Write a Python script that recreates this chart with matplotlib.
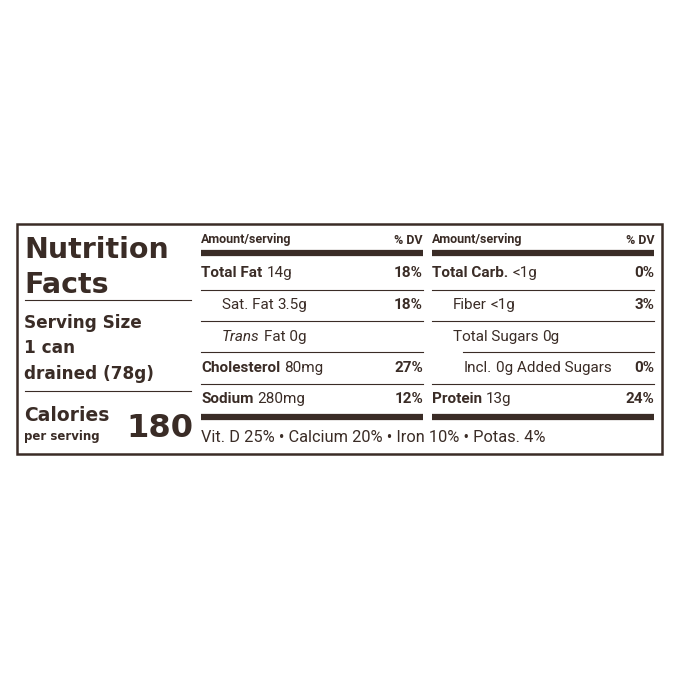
import matplotlib.pyplot as plt
from matplotlib import font_manager
from matplotlib.patches import Rectangle

# label data
left_labels = ["Total Fat", "Sat. Fat", "Trans", "Cholesterol", "Sodium"]
left_amounts = ["14g", "3.5g", "Fat 0g", "80mg", "280mg"]
left_dv = ["18%", "18%", "", "27%", "12%"]
left_bold = [True, False, False, True, True]
left_indent = [0, 1, 1, 0, 0]

right_labels = ["Total Carb.", "Fiber", "Total Sugars", "Incl.", "Protein"]
right_amounts = ["<1g", "<1g", "0g", "0g Added Sugars", "13g"]
right_dv = ["0%", "3%", "", "0%", "24%"]
right_bold = [True, False, False, False, True]
right_indent = [0, 1, 1, 2, 0]

vitamins = "Vit. D 25% • Calcium 20% • Iron 10% • Potas. 4%"

ink = "#3a2c26"
names = {f.name for f in font_manager.fontManager.ttflist}
if "Liberation Sans Narrow" in names:
    narrow, fs = "Liberation Sans Narrow", 12.5
else:
    narrow, fs = "Roboto", 11
heavy = "DejaVu Sans"

fig = plt.figure(figsize=(6.79, 6.79), dpi=100)
ax = fig.add_axes([0, 0, 1, 1])
ax.set_xlim(0, 679)
ax.set_ylim(679, 0)
ax.axis("off")

ax.add_patch(Rectangle((17, 224), 645, 230, fill=False, ec=ink, lw=1.8))

# left block
ax.text(24, 258, "Nutrition", fontsize=20.5, weight="bold", family=heavy, color=ink)
ax.text(24, 293, "Facts", fontsize=20.5, weight="bold", family=heavy, color=ink)
ax.plot([25, 191], [300, 300], color=ink, lw=0.8)
for y, t in zip([328, 353, 379], ["Serving Size", "1 can", "drained (78g)"]):
    ax.text(24, y, t, fontsize=12.2, weight="bold", family=heavy, color=ink)
ax.plot([25, 191], [391, 391], color=ink, lw=0.8)
ax.text(24, 421, "Calories", fontsize=13.5, weight="bold", family=heavy, color=ink)
ax.text(24, 440, "per serving", fontsize=8.5, weight="bold", family=heavy, color=ink)
ax.text(193, 437, "180", fontsize=23, weight="bold", family=heavy, color=ink, ha="right")

row_y = [273, 305, 337, 368, 399]
sep_y = [290, 321, 352, 384]


def column(x0, x1, labels, amounts, dv, bold, indent, sep_start):
    ax.text(x0, 240, "Amount/serving", fontsize=fs - 2, weight="bold", family=narrow,
            color=ink, va="center")
    ax.text(x1, 240, "% DV", fontsize=fs - 2, weight="bold", family=narrow,
            color=ink, va="center", ha="right")
    ax.plot([x0, x1], [253, 253], color=ink, lw=4.5, solid_capstyle="butt")
    for i, y in enumerate(row_y):
        x = x0 + indent[i] * 21 + (-10 if indent[i] == 2 else 0)
        lab = ax.text(x, y, labels[i], fontsize=fs, family=narrow, color=ink, va="center",
                      weight="bold" if bold[i] else "normal",
                      style="italic" if labels[i] == "Trans" else "normal")
        fig.canvas.draw()
        bb = lab.get_window_extent().transformed(ax.transData.inverted())
        ax.text(bb.x1 + 4, y, amounts[i], fontsize=fs, family=narrow, color=ink,
                va="center")
        if dv[i]:
            ax.text(x1, y, dv[i], fontsize=fs, weight="bold", family=narrow,
                    color=ink, va="center", ha="right")
    for y, xs in zip(sep_y, sep_start):
        ax.plot([xs, x1], [y, y], color=ink, lw=0.8)
    ax.plot([x0, x1], [417, 417], color=ink, lw=4.5, solid_capstyle="butt")


column(201, 423, left_labels, left_amounts, left_dv, left_bold, left_indent,
       [201, 201, 201, 201])
column(432, 654, right_labels, right_amounts, right_dv, right_bold, right_indent,
       [432, 432, 463, 432])

ax.text(201, 437, vitamins, fontsize=fs + 0.8, family=narrow, color=ink, va="center")

fig.savefig("out.png", dpi=100, facecolor="white")
